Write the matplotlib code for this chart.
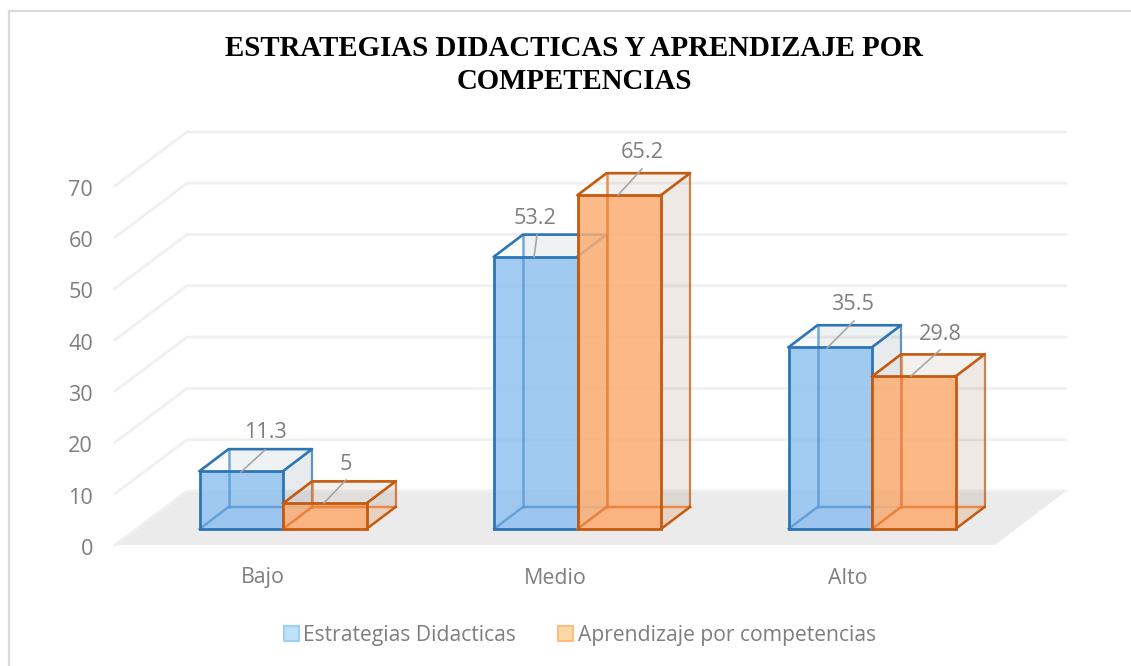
"""Clustered 3D-style column chart: estrategias didacticas y competencias."""

import matplotlib

matplotlib.use("Agg")
import matplotlib.pyplot as plt
from matplotlib.lines import Line2D
from matplotlib.patches import Polygon, Rectangle

CATEGORIES = ["Bajo", "Medio", "Alto"]
ESTRATEGIAS = [11.3, 53.2, 35.5]
APRENDIZAJE = [5, 65.2, 29.8]
SERIES_NAMES = ["Estrategias Didacticas", "Aprendizaje por competencias"]
Y_TICKS = [0, 10, 20, 30, 40, 50, 60, 70]
TITLE = "ESTRATEGIAS DIDACTICAS Y APRENDIZAJE POR\nCOMPETENCIAS"

W, H = 1131, 666
PX_CAT = 294.5
PX_VAL = 5.12
BAR_W = 83.5 / PX_CAT
DX = 29 / PX_CAT
DY = 22 / PX_VAL
LABEL_FONT = "Open Sans"


def px_x(px):
    return (px - 283) / PX_CAT


def px_y(py):
    return (529 - py) / PX_VAL


def draw_box(ax, x, value, front, shade, edge, back_edge, z):
    """One column: see-through box with the hidden edges showing through."""
    x0, x1 = x, x + BAR_W
    back = [(x0 + DX, DY), (x1 + DX, DY), (x1 + DX, value + DY), (x0 + DX, value + DY)]
    side = [(x1, 0), (x1 + DX, DY), (x1 + DX, value + DY), (x1, value)]
    top = [(x0, value), (x1, value), (x1 + DX, value + DY), (x0 + DX, value + DY)]
    bottom = [(x0, 0), (x1, 0), (x1 + DX, DY), (x0 + DX, DY)]
    ax.add_patch(Polygon(back, fc=shade, alpha=0.05, ec="none", zorder=z))
    ax.add_patch(Polygon(side, fc=shade, alpha=0.08, ec="none", zorder=z))
    ax.add_patch(Polygon(top, fc=shade, alpha=0.03, ec="none", zorder=z))
    ax.add_patch(Polygon(bottom, fc=front, alpha=0.25, ec="none", zorder=z))
    ax.add_patch(Rectangle((x0, 0), BAR_W, value, fc=front, alpha=0.85, ec="none", zorder=z + 1))
    # hidden edges show through the front face
    ax.plot([x0 + DX, x0 + DX], [DY, value + DY], color=back_edge, lw=1.8, alpha=0.85, zorder=z + 2)
    ax.plot([x0, x0 + DX, x1 + DX], [0, DY, DY], color=back_edge, lw=1.8, alpha=0.85, zorder=z + 2)
    ax.plot([x1, x1 + DX], [0, DY], color=edge, lw=1.8, zorder=z + 2)
    ax.plot([x1 + DX, x1 + DX], [DY, value + DY], color=edge, lw=1.6, alpha=0.75, zorder=z + 3)
    ax.plot([x0, x0 + DX, x1 + DX, x1], [value, value + DY, value + DY, value],
            color=edge, lw=1.9, zorder=z + 3, solid_joinstyle="round")
    ax.add_patch(Rectangle((x0, 0), BAR_W, value, fc="none", ec=edge, lw=2, zorder=z + 3))


fig = plt.figure(figsize=(W / 100, H / 100), dpi=100, facecolor="white")
ax = fig.add_axes([0, 0, 1, 1])
ax.set_xlim(px_x(0), px_x(W))
ax.set_ylim(px_y(H), px_y(0))
ax.axis("off")

# outer chart frame: only top and left edges fall inside the picture
fig.add_artist(Line2D([8.5 / W, 8.5 / W, 1], [0, 1 - 11 / H, 1 - 11 / H], transform=fig.transFigure,
                      color="#d9d9d9", lw=1.6, zorder=0))

# floor and gridlines
wall_left, wall_right, front_left = px_x(187), px_x(1066), px_x(115)
floor_back = px_y(491)
wall_dy = (545 - 491) / PX_VAL
unit = 5.13 / PX_VAL
ax.add_patch(Polygon([(front_left, floor_back - wall_dy), (wall_left, floor_back),
                      (wall_right, floor_back), (px_x(995), floor_back - wall_dy)],
                     fc="#ebebeb", ec="none", zorder=1))
for tick in Y_TICKS:
    y = floor_back + tick * unit
    ax.plot([front_left, wall_left, wall_right], [y - wall_dy, y, y],
            color="#f0f0f0", lw=2, zorder=1)
    ax.text(px_x(93), y - wall_dy - 4.5 / PX_VAL, str(tick), ha="right", va="center",
            fontsize=15.6, color="#7f7f7f", family=LABEL_FONT)

styles = [
    (ESTRATEGIAS, -BAR_W, "#92c2f0", "#4a6378", "#2e75b6", "#5b9bd5", 3),
    (APRENDIZAJE, 0, "#fdae74", "#7d5235", "#c55a11", "#ed7d31", 10),
]
for values, shift, front, shade, edge, back_edge, z in styles:
    for i, value in enumerate(values):
        draw_box(ax, i + shift, value, front, shade, edge, back_edge, z)

# data labels with leader lines
LEADERS = [
    [((241, 472), (265, 450)), ((324, 503), (346, 480))],
    [((534, 257), (537, 235)), ((618, 195), (642, 169))],
    [((827, 348), (854, 321)), ((911, 376), (940, 350))],
]
LABEL_PX = [[(265, 433), (346, 464)], [(535, 219), (642, 153)], [(853, 305), (940, 334)]]
for i in range(3):
    for j, values in enumerate((ESTRATEGIAS, APRENDIZAJE)):
        (xa, ya), (xb, yb) = LEADERS[i][j]
        ax.plot([px_x(xa), px_x(xb)], [px_y(ya), px_y(yb)], color="#a6a6a6", lw=1.2, zorder=20)
        lx, ly = LABEL_PX[i][j]
        ax.text(px_x(lx), px_y(ly), f"{values[i]:g}", ha="center", va="center",
                fontsize=15.6, color="#7f7f7f", family=LABEL_FONT, zorder=21)

for i, name in enumerate(CATEGORIES):
    ax.text(px_x(262.5 + i * 292.8), px_y(578), name, ha="center", va="center",
            fontsize=15.4, color="#7f7f7f", family=LABEL_FONT)

ax.text(px_x(574), px_y(65), TITLE, ha="center", va="center", fontsize=20.8, fontweight="bold",
        color="black", family="Liberation Serif", linespacing=1.28)

# legend, placed by hand like the original
for left, text_x, name, fc, ec in [(284, 303, SERIES_NAMES[0], "#bde3fb", "#9fd0f7"),
                                   (558, 578, SERIES_NAMES[1], "#fdd8a5", "#fbbd84")]:
    ax.add_patch(Rectangle((px_x(left), px_y(641)), 15 / PX_CAT, 15 / PX_VAL,
                           fc=fc, ec=ec, lw=1.5, zorder=3))
    ax.text(px_x(text_x), px_y(636), name, ha="left", va="center", fontsize=15.2,
            color="#7f7f7f", family=LABEL_FONT)

fig.savefig("out.png", dpi=100)
plt.close(fig)
